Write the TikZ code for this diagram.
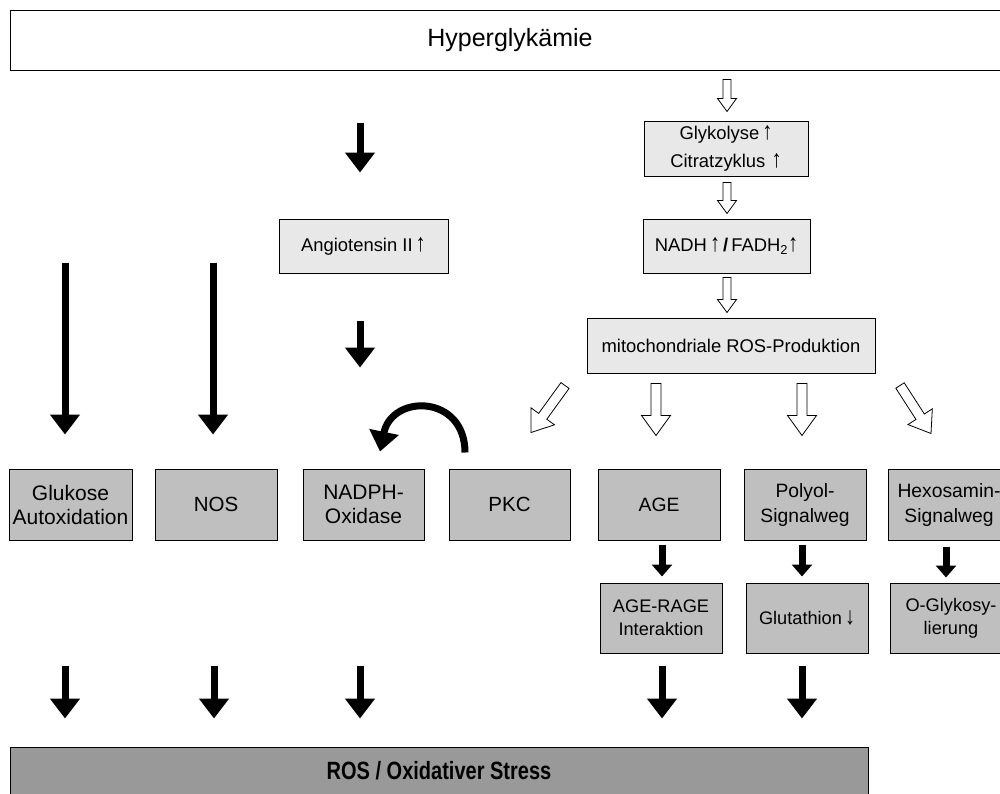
\documentclass[tikz,border=0pt]{standalone}
\usepackage{fontspec}
\setmainfont{Liberation Sans}
\usetikzlibrary{arrows.meta,calc}

% hollow block arrow: from, to, half shaft, half head, head length
\newcommand{\hollowarr}[5]{%
  \path[hollowline] let \p1=(#1), \p2=(#2),
      \n1={atan2(\y2-\y1,\x2-\x1)}, \n2={veclen(\x2-\x1,\y2-\y1)} in
    {[shift={(\p1)}, rotate=\n1]
    (0pt,#3) -- ({\n2*1pt-#5},#3) -- ({\n2*1pt-#5},#4) -- ({\n2*1pt},0pt)
    -- ({\n2*1pt-#5},-#4) -- ({\n2*1pt-#5},-#3) -- (0pt,-#3) -- cycle};}
\newcommand{\upar}{\textbf{\scalebox{1.1}[1.35]{↑}}}
\newcommand{\downar}{\textbf{\scalebox{1.1}[1.35]{↓}}}

\tikzset{
  topbox/.style={draw, line width=1pt, fill=white, minimum width=1000pt, minimum height=60pt,
    font=\fontsize{25}{29}\selectfont},
  lightbox/.style={draw, line width=1pt, fill=black!9, minimum height=54pt, align=center,
    inner sep=2pt, font=\fontsize{18.4}{28}\selectfont},
  darkbox/.style={draw, line width=1pt, fill=black!25, minimum width=122pt, minimum height=71pt,
    align=center, inner sep=1pt, font=\fontsize{20.5}{24}\selectfont},
  rightbox/.style={darkbox, font=\fontsize{19.3}{25}\selectfont},
  lowbox/.style={darkbox, minimum height=70pt, font=\fontsize{18.2}{23}\selectfont},
  rosbox/.style={draw, line width=1pt, fill=black!40, minimum width=858pt, minimum height=48pt,
    font=\fontsize{25}{29}\selectfont\bfseries},
  fatarrow/.style={line width=7pt, -{Triangle[width=29pt,length=20pt]}},
  smallarrow/.style={line width=7pt, -{Triangle[width=20pt,length=12pt]}},
  hollowline/.style={draw=black, fill=white, line width=0.8pt, line join=miter},
}

\begin{document}
\begin{tikzpicture}[x=1pt, y=-1pt]
    \clip (0,0) rectangle (1000,793);

    % Top
    \node[topbox] (hyper) at (510,40) {Hyperglykämie};

    % Right chain
    \node[lightbox, minimum width=164pt, minimum height=55pt] (glyk) at (726,148.5)
        {Glykolyse\,\upar\\Citratzyklus\,\,\upar};
    \node[lightbox, minimum width=167pt] (nadh) at (726.5,246)
        {NADH\,\upar\,\textbf{/}\,FADH\textsubscript{2}\upar};
    \node[lightbox, minimum width=288pt, minimum height=55pt] (mito) at (731,345.5)
        {mitochondriale ROS-Produktion};
    \node[lightbox, minimum width=169pt] (ang) at (363.5,246) {Angiotensin II\,\upar};

    % Sources
    \node[darkbox, minimum width=123pt, font=\fontsize{21}{24}\selectfont] (glukose) at (70.5,504.5)
        {Glukose\\Autoxidation};
    \node[darkbox] (nos) at (216,504.5) {NOS};
    \node[darkbox, minimum width=121pt, font=\fontsize{21}{24}\selectfont] (nadph) at (363.5,504.5)
        {NADPH-\\Oxidase};
    \node[darkbox, minimum width=121pt] (pkc) at (509.5,504.5) {PKC};
    \node[rightbox] (age) at (659,504.5) {AGE};
    \node[rightbox] (polyol) at (805,504.5) {Polyol-\\Signalweg};
    \node[rightbox] (hexo) at (949,504.5) {Hexosamin-\\Signalweg};

    % Second row
    \node[lowbox] (agerage) at (661,618) {AGE-RAGE\\Interaktion};
    \node[lowbox] (gluta) at (807,618) {Glutathion\,\downar};
    \node[lowbox] (oglyk) at (951,618) {O-Glykosy-\\lierung};

    % Bottom
    \node[rosbox] (ros) at (439,771) {\scalebox{0.8}[1]{ROS / Oxidativer Stress}};

    % Black arrows
    \draw[fatarrow, shorten <=52pt, shorten >=46pt]
        ($(ang.north |- hyper.south)+(-3.5,0)$) -- ($(ang.north)+(-3.5,0)$);
    \draw[fatarrow, shorten <=47pt, shorten >=101pt]
        ($(ang.south)+(-3.5,0)$) -- ($(nadph.north)+(-3.5,0)$);
    \draw[fatarrow, shorten <=192pt, shorten >=34pt]
        ($(glukose.north |- hyper.south)+(-5.5,0)$) -- ($(glukose.north)+(-5.5,0)$);
    \draw[fatarrow, shorten <=192pt, shorten >=34pt]
        ($(nos.north |- hyper.south)+(-3,0)$) -- ($(nos.north)+(-3,0)$);

    % Into ROS
    \foreach \src/\dx/\s in {glukose/-5.5/125, nos/-2/125, nadph/-3.5/125, agerage/1/12, gluta/-5/12} {
        \draw[fatarrow, shorten <=\s pt, shorten >=28pt]
            ($(\src.south)+(\dx,0)$) -- ($(\src.south |- ros.north)+(\dx,0)$);
    }

    % Short arrows to second row
    \draw[smallarrow, shorten <=4pt, shorten >=6pt]
        ($(age.south)+(3,0)$) -- ($(age.south |- agerage.north)+(3,0)$);
    \draw[smallarrow, shorten <=4pt, shorten >=6pt]
        ($(polyol.south)+(-3,0)$) -- ($(polyol.south |- gluta.north)+(-3,0)$);
    \draw[smallarrow, shorten <=6pt, shorten >=5pt]
        ($(hexo.south)+(-3,0)$) -- ($(hexo.south |- oglyk.north)+(-3,0)$);

    % PKC activates NADPH oxidase
    \draw[fatarrow] ($(pkc.north)+(-44.5,-16)$) .. controls +(0,-58) and +(12,-58) .. ($(nadph.north)+(16.5,-17)$);

    % Hollow arrows
    \hollowarr{$(glyk.north |- hyper.south)+(1,9)$}{$(glyk.north)+(1,-9)$}{4pt}{9.5pt}{13pt}
    \hollowarr{$(glyk.south)+(1,6)$}{$(nadh.north)+(0.5,-5)$}{4pt}{9.5pt}{13pt}
    \hollowarr{$(nadh.south)+(0.5,4)$}{$(mito.north)+(-4,-5)$}{4pt}{9.5pt}{13pt}
    \hollowarr{$(mito.south)+(-75,10)$}{$(mito.south)+(-75,62)$}{5pt}{14.5pt}{20pt}
    \hollowarr{$(mito.south)+(71,10)$}{$(mito.south)+(71,62)$}{5pt}{14.5pt}{20pt}
    \hollowarr{$(mito.south)+(-166,12)$}{$(mito.south)+(-200,59)$}{5pt}{14.5pt}{20pt}
    \hollowarr{$(mito.south)+(169,12)$}{$(mito.south)+(200,60)$}{5pt}{14.5pt}{20pt}
\end{tikzpicture}
\end{document}
